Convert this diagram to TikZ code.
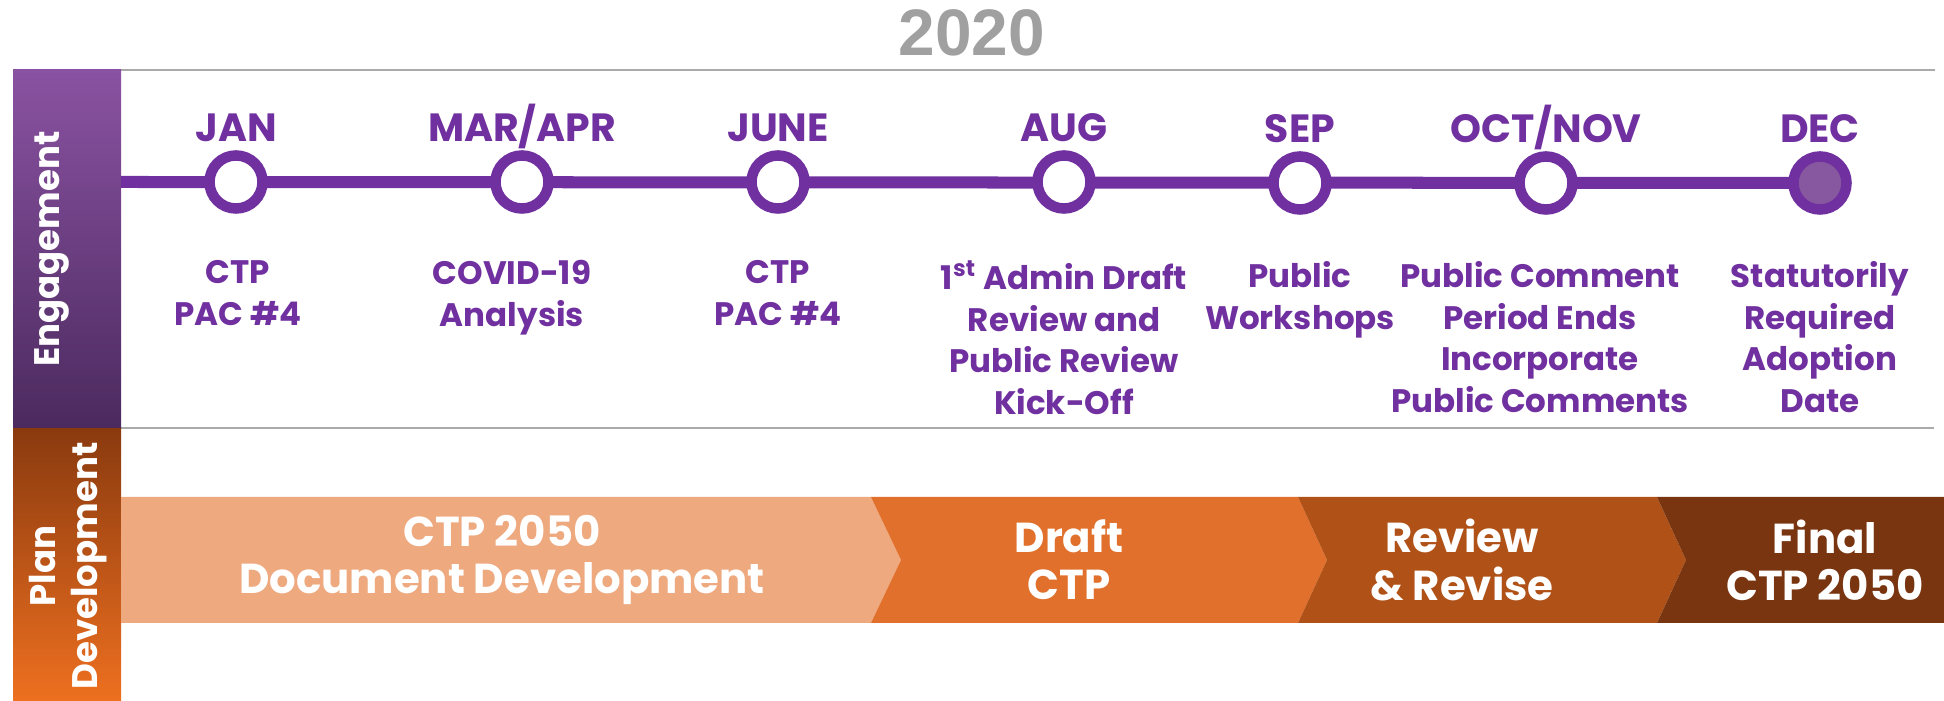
\documentclass[tikz,border=0pt]{standalone}
\usepackage{fontspec}
\setmainfont{Poppins}
\newfontfamily\yearfont{Liberation Sans}
\usepackage{tikz}
\usetikzlibrary{positioning}
\definecolor{engage}{HTML}{7030A0}
\definecolor{engagetop}{HTML}{8A52A2}
\definecolor{engagebot}{HTML}{4B2A5E}
\definecolor{plantop}{HTML}{8A3A0F}
\definecolor{planbot}{HTML}{EE7020}
\definecolor{phaseA}{HTML}{EEA97F}
\definecolor{phaseB}{HTML}{E0702B}
\definecolor{phaseC}{HTML}{B05218}
\definecolor{phaseD}{HTML}{783510}
\definecolor{decfill}{HTML}{87589F}
\definecolor{rulegray}{HTML}{AAAAAA}
\definecolor{yeargray}{HTML}{A0A0A0}

\tikzset{
	month/.style={circle,draw=engage,line width=0.105cm,fill=white,minimum size=0.53cm,inner sep=0pt},
	monthname/.style={text=engage,inner sep=0pt,text depth=0pt,font=\bfseries\fontsize{11.2}{12}\selectfont},
	event/.style={text=engage,inner sep=0pt,align=center,execute at begin node={\strut},font=\bfseries\fontsize{9.25}{11.8}\selectfont},
	phasetext/.style={text=white,align=center,font=\bfseries\fontsize{11.9}{13.4}\selectfont},
	bandtext/.style={text=white,rotate=90,align=center,font=\bfseries\fontsize{10.1}{11.95}\selectfont}
}

\begin{document}
\begin{tikzpicture}[x=0.01cm,y=-0.01cm]
			\useasboundingbox (0,0) rectangle (1944,701);
			\coordinate (tl0) at (121,182);
			\coordinate (m1) at (236,182);
			\coordinate (m2) at (522,182);
			\coordinate (m3) at (778,182);
			\coordinate (m4) at (1064,182);
			\coordinate (m5) at (1300,183);
			\coordinate (m6) at (1546,183);
			\coordinate (m7) at (1820,183);
			
			\node (year) at (972,33) [text=yeargray,font=\yearfont\bfseries\fontsize{18.7}{20}\selectfont] {2020};
			\draw[rulegray,line width=0.02cm] (97,70) -- (1935,70);
			\draw[rulegray,line width=0.02cm] (121,428) -- (1934,428);
			
			\fill[top color=engagetop,bottom color=engagebot] (13,70) rectangle (121,429);
			\fill[top color=plantop,bottom color=planbot] (13,429) rectangle (121,701);
			\node (engband) at (60,249) [bandtext,anchor=base] {Engagement};
			\node (planband) at (68,566) [bandtext] {Plan\\Development};
			
			\draw[engage,line width=0.12cm] (tl0) -- (m7);
			\node (jan) at (m1) [month] {};
			\node (mar) at (m2) [month] {};
			\node (jun) at (m3) [month] {};
			\node (aug) at (m4) [month] {};
			\node (sep) at (m5) [month] {};
			\node (oct) at (m6) [month] {};
			\node (dec) at (m7) [month,fill=decfill] {};
			
			\node (janname) [monthname,above=0.08cm of jan] {JAN};
			\node (marname) [monthname,above=0.08cm of mar] {MAR/APR};
			\node (junname) [monthname,above=0.08cm of jun] {JUNE};
			\node (augname) [monthname,above=0.08cm of aug] {AUG};
			\node (sepname) [monthname,above=0.08cm of sep] {SEP};
			\node (octname) [monthname,above=0.08cm of oct] {OCT/NOV};
			\node (decname) [monthname,above=0.08cm of dec] {DEC};
			
			\node (janev) [event,below=0.46cm of jan,xshift=0.02cm] {CTP\\PAC \#4};
			\node (marev) [event,below=0.46cm of mar,xshift=-0.1cm] {COVID-19\\Analysis};
			\node (junev) [event,below=0.46cm of jun] {CTP\\PAC \#4};
			\node (augev) [event,below=0.46cm of aug] {1\textsuperscript{st} Admin Draft\\Review and\\Public Review\\Kick-Off};
			\node (sepev) [event,below=0.46cm of sep] {Public\\Workshops};
			\node (octev) [event,below=0.46cm of oct,xshift=-0.06cm] {Public Comment\\Period Ends\\Incorporate\\Public Comments};
			\node (decev) [event,below=0.46cm of dec] {Statutorily\\Required\\Adoption\\Date};
			
			\fill[phaseA] (121,497) -- (871,497) -- (901,560) -- (871,623) -- (121,623) -- cycle;
			\fill[phaseB] (871,497) -- (1298,497) -- (1327,560) -- (1298,623) -- (871,623) -- (901,560) -- cycle;
			\fill[phaseC] (1298,497) -- (1657,497) -- (1686,560) -- (1657,623) -- (1298,623) -- (1327,560) -- cycle;
			\fill[phaseD] (1657,497) -- (1944,497) -- (1944,623) -- (1657,623) -- (1686,560) -- cycle;
			\node (docdev) at (502,560) [phasetext] {CTP 2050\\Document Development};
			\node (draft) at (1069,560) [phasetext] {Draft\\CTP};
			\node (revise) at (1462,560) [phasetext] {Review\\\& Revise};
			\node (final) at (1825,560) [phasetext] {Final\\CTP 2050};
		\end{tikzpicture}
\end{document}
